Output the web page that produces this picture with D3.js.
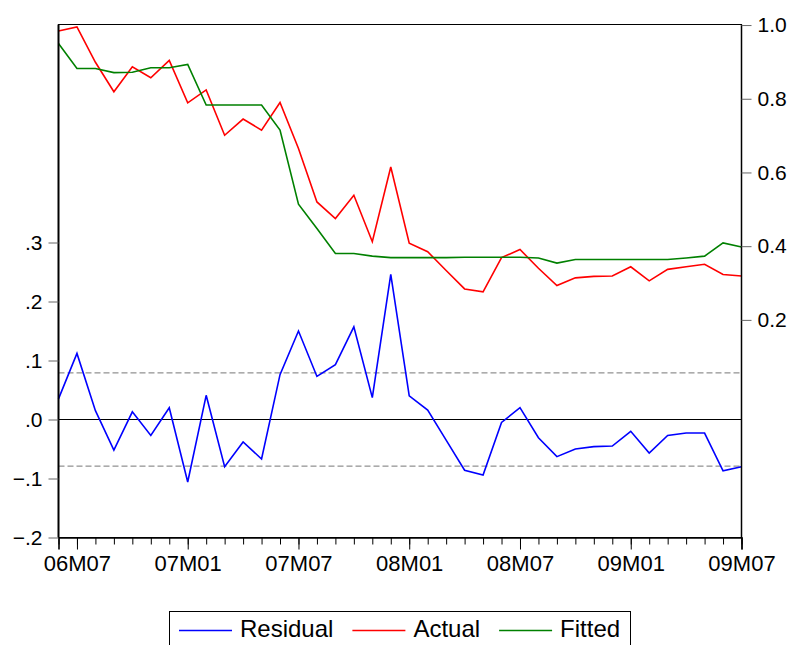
<!DOCTYPE html>
<html>
<head>
<meta charset="utf-8">
<script src="https://cdn.jsdelivr.net/npm/d3@7"></script>
<style>
  body { margin: 0; background: #fff; }
  svg { display: block; font-family: "Liberation Sans", Arial, sans-serif; }
</style>
</head>
<body>
<svg width="796" height="645"></svg>
<script>
// monthly sample 2006M06 .. 2009M07
const months = d3.timeMonth.range(new Date(2006, 5, 1), new Date(2009, 7, 1));

const residual = [0.035, 0.112, 0.015, -0.052, 0.013, -0.027, 0.020, -0.106, 0.041, -0.080,
  -0.038, -0.067, 0.076, 0.150, 0.073, 0.093, 0.157, 0.037, 0.246, 0.040,
  0.016, -0.035, -0.086, -0.094, -0.005, 0.020, -0.031, -0.063, -0.050, -0.046,
  -0.045, -0.020, -0.057, -0.027, -0.023, -0.023, -0.087, -0.080];

const actual = [0.984, 0.995, 0.899, 0.819, 0.887, 0.857, 0.904, 0.789, 0.824, 0.701,
  0.745, 0.715, 0.790, 0.665, 0.520, 0.475, 0.538, 0.412, 0.615, 0.408,
  0.385, 0.334, 0.284, 0.276, 0.369, 0.391, 0.340, 0.293, 0.314, 0.318,
  0.319, 0.344, 0.306, 0.337, 0.344, 0.351, 0.323, 0.319];

const fitted = [0.950, 0.882, 0.882, 0.871, 0.872, 0.884, 0.884, 0.893, 0.783, 0.783,
  0.783, 0.783, 0.715, 0.514, 0.448, 0.380, 0.380, 0.373, 0.369, 0.369,
  0.369, 0.369, 0.370, 0.370, 0.370, 0.370, 0.368, 0.354, 0.364, 0.364,
  0.364, 0.364, 0.364, 0.364, 0.368, 0.373, 0.409, 0.398];

const leftTicks = [-0.2, -0.1, 0, 0.1, 0.2, 0.3];
const rightTicks = [0.2, 0.4, 0.6, 0.8, 1.0];
const seBand = 0.079; // +/- 1 S.E. lines

const series = [
  { name: 'Residual', values: residual, color: '#0000ff', axis: 'left' },
  { name: 'Actual', values: actual, color: '#ff0000', axis: 'right' },
  { name: 'Fitted', values: fitted, color: '#008000', axis: 'right' }
];

const svg = d3.select('svg');
const pLeft = 58.5, pRight = 741.5, pTop = 24.5, pBottom = 537.5;

const x = d3.scalePoint().domain(months).range([pLeft, pRight]);
const yL = d3.scaleLinear().domain([-0.2, 0.6695]).range([pBottom, pTop]);
const yR = d3.scaleLinear().domain([-0.3905, 1.0015]).range([pBottom, pTop]);

// plot frame (top/right thin)
svg.append('rect')
  .attr('x', pLeft).attr('y', pTop)
  .attr('width', pRight - pLeft).attr('height', pBottom - pTop)
  .attr('fill', 'none').attr('stroke', '#000').attr('stroke-width', 1);

// S.E. dashed lines and zero line
svg.selectAll('line.se')
  .data([seBand, -seBand])
  .enter().append('line')
    .attr('class', 'se')
    .attr('x1', pLeft).attr('x2', pRight)
    .attr('y1', d => yL(d)).attr('y2', d => yL(d))
    .attr('stroke', '#777').attr('stroke-width', 1)
    .attr('stroke-dasharray', '6,3');

svg.append('line')
  .attr('x1', pLeft).attr('x2', pRight)
  .attr('y1', yL(0)).attr('y2', yL(0))
  .attr('stroke', '#000').attr('stroke-width', 1.2);

// series lines
series.forEach(s => {
  const y = s.axis === 'left' ? yL : yR;
  const line = d3.line()
    .x((d, i) => x(months[i]))
    .y(d => y(d));
  svg.append('path')
    .datum(s.values)
    .attr('fill', 'none')
    .attr('stroke', s.color)
    .attr('stroke-width', 1.6)
    .attr('stroke-linejoin', 'miter')
    .attr('d', line);
});

// axes
const fmtMonth = d3.timeFormat('%yM%m');

const minor = svg.append('g')
  .attr('transform', `translate(0,${pBottom})`)
  .call(d3.axisBottom(x).tickValues(months).tickSize(7).tickFormat(''));
minor.select('.domain').remove();

const xAxis = svg.append('g')
  .attr('transform', `translate(0,${pBottom})`)
  .call(d3.axisBottom(x)
    .tickValues(months.filter((d, i) => i % 6 === 1))
    .tickSize(12).tickPadding(6)
    .tickFormat(fmtMonth));
xAxis.select('.domain').attr('stroke-width', 1.6);
xAxis.selectAll('text').attr('font-size', 22).attr('fill', '#000')
  .attr('font-family', '"Liberation Sans", Arial, sans-serif');

const fmtLeft = d => d3.format('.1f')(d).replace('0.', '.');
const yAxisL = svg.append('g')
  .attr('transform', `translate(${pLeft},0)`)
  .call(d3.axisLeft(yL).tickValues(leftTicks).tickSize(10).tickPadding(6).tickFormat(fmtLeft));
yAxisL.select('.domain').attr('d', `M0,${pTop}V${pBottom}`).attr('stroke-width', 2);
yAxisL.selectAll('.tick line').attr('stroke', '#666');
yAxisL.selectAll('text').attr('font-size', 21).attr('fill', '#000')
  .attr('font-family', '"Liberation Sans", Arial, sans-serif');

const yAxisR = svg.append('g')
  .attr('transform', `translate(${pRight},0)`)
  .call(d3.axisRight(yR).tickValues(rightTicks).tickSize(10).tickPadding(6).tickFormat(d3.format('.1f')));
yAxisR.select('.domain').attr('d', `M0,${pTop}V${pBottom}`).attr('stroke-width', 1.5);
yAxisR.selectAll('.tick line').attr('stroke', '#666');
yAxisR.selectAll('text').attr('font-size', 21).attr('fill', '#000')
  .attr('font-family', '"Liberation Sans", Arial, sans-serif');

// legend
const legend = svg.append('g');
legend.append('rect')
  .attr('x', 169.5).attr('y', 611.5)
  .attr('width', 461).attr('height', 45)
  .attr('fill', '#fff').attr('stroke', '#000').attr('stroke-width', 1);

let lx = 179;
series.forEach(s => {
  legend.append('line')
    .attr('x1', lx).attr('x2', lx + 53)
    .attr('y1', 630.5).attr('y2', 630.5)
    .attr('stroke', s.color).attr('stroke-width', 1.6);
  const t = legend.append('text')
    .attr('x', lx + 61).attr('y', 637)
    .attr('font-size', 24)
    .attr('fill', '#000')
    .text(s.name);
  lx += 61 + t.node().getComputedTextLength() + 19;
});
</script>
</body>
</html>
